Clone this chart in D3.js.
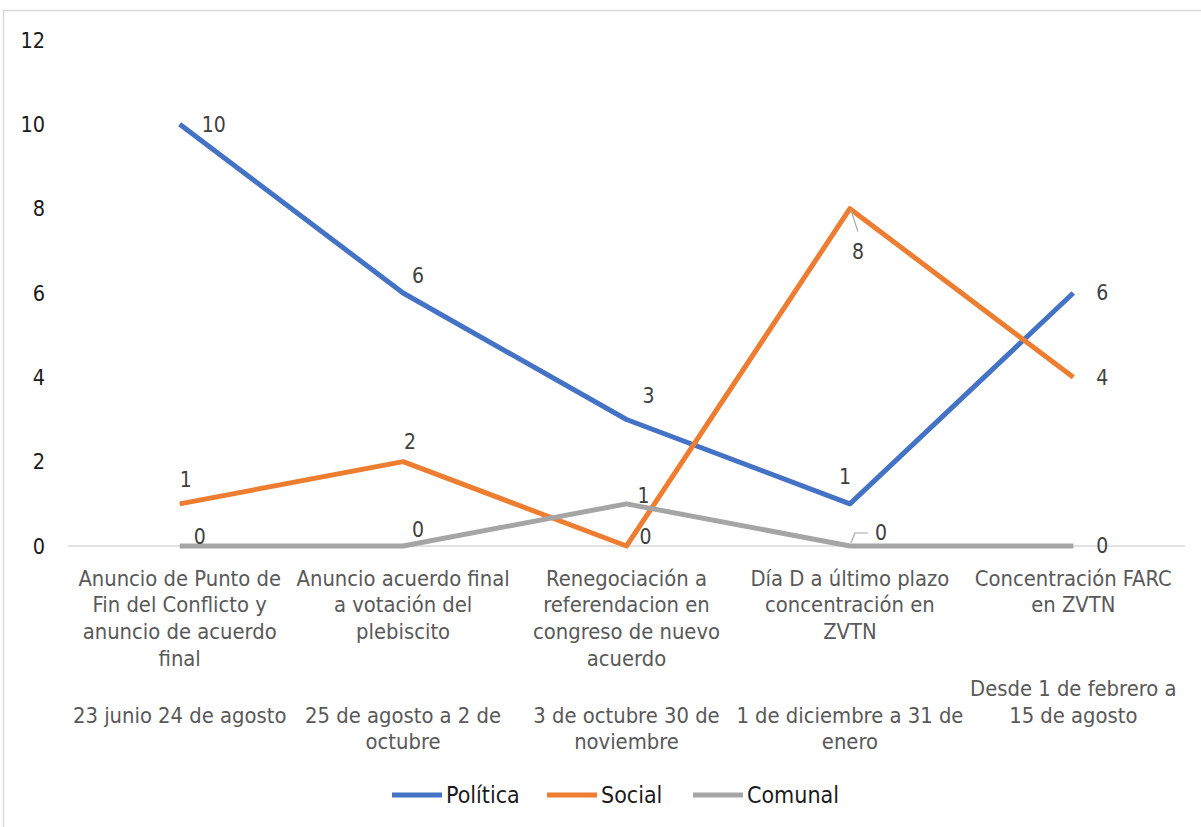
<!DOCTYPE html>
<html>
<head>
<meta charset="utf-8">
<script src="https://cdn.jsdelivr.net/npm/d3@7"></script>
<style>
  html, body { margin: 0; padding: 0; background: #fff; }
  svg { display: block; }
  text { font-family: "DejaVu Sans Condensed", "DejaVu Sans", sans-serif; }
</style>
</head>
<body>
<script>
// ---- data ----
const categories = [
  "Anuncio de Punto de Fin del Conflicto y anuncio de acuerdo final",
  "Anuncio acuerdo final a votación del plebiscito",
  "Renegociación a referendacion en congreso de nuevo acuerdo",
  "Día D a último plazo concentración en ZVTN",
  "Concentración FARC en ZVTN"
];
const categoryLines = [
  ["Anuncio de Punto de", "Fin del Conflicto y", "anuncio de acuerdo", "final"],
  ["Anuncio acuerdo final", "a votación del", "plebiscito"],
  ["Renegociación a", "referendacion en", "congreso de nuevo", "acuerdo"],
  ["Día D a último plazo", "concentración en", "ZVTN"],
  ["Concentración FARC", "en ZVTN"]
];
const periodLines = [
  ["23 junio 24 de agosto"],
  ["25 de agosto a 2 de", "octubre"],
  ["3 de octubre 30 de", "noviembre"],
  ["1 de diciembre a 31 de", "enero"],
  ["Desde 1 de febrero a", "15 de agosto"]
];
const seriesNames = ["Política", "Social", "Comunal"];
const politica = [10, 6, 3, 1, 6];
const social = [1, 2, 0, 8, 4];
const comunal = [0, 0, 1, 0, 0];
const yTicks = [0, 2, 4, 6, 8, 10, 12];

// ---- layout / style ----
const W = 1201, H = 827;
const colors = ["#4472C4", "#ED7D31", "#A5A5A5"];
const periodStartRow = [1, 1, 1, 1, 0];
// label offsets (dx, dy) relative to point, per series
const labelOffsets = [
  [[34, 0], [15, -17], [22, -24], [-5, -27], [29, 0]],
  [[6, -24], [7, -20], [19, -9], [8, 43], [29, 0]],
  [[20, -9], [15, -16], [17, -8], [31, -13], [29, 0]]
];

const svg = d3.select("body").append("svg").attr("width", W).attr("height", H);

// chart frame
svg.append("rect").attr("x", 3.5).attr("y", 10.5).attr("width", 1205).attr("height", 830)
  .attr("fill", "#fff").attr("stroke", "#d9d9d9").attr("stroke-width", 1.5);

const x = d3.scalePoint().domain(categories).range([68, 1185]).padding(0.5);
const y = d3.scaleLinear().domain([0, 12]).range([546, 40]);

// y tick labels
svg.append("g").selectAll("text").data(yTicks).join("text")
  .attr("x", 45).attr("y", d => y(d)).attr("dy", "0.35em")
  .attr("text-anchor", "end").attr("font-size", 21.5).attr("fill", "#1a1a1a")
  .text(d => d);

// baseline
svg.append("line").attr("x1", 68).attr("x2", 1185).attr("y1", y(0)).attr("y2", y(0))
  .attr("stroke", "#d9d9d9").attr("stroke-width", 1.5);

// category labels
const catG = svg.append("g").attr("font-size", 21.8).attr("fill", "#595959").attr("text-anchor", "middle");
categories.forEach((c, i) => {
  const cx = x(c);
  categoryLines[i].forEach((ln, j) => {
    catG.append("text").attr("x", cx).attr("y", 578 + j * 26.7).attr("dy", "0.35em").text(ln);
  });
  periodLines[i].forEach((ln, j) => {
    catG.append("text").attr("x", cx).attr("y", 688 + (periodStartRow[i] + j) * 26.9).attr("dy", "0.35em").text(ln);
  });
});

// lines
const allSeries = [politica, social, comunal];
const line = d3.line().x((d, i) => x(categories[i])).y(d => y(d));
allSeries.forEach((s, k) => {
  svg.append("path").datum(s).attr("d", line).attr("fill", "none")
    .attr("stroke", colors[k]).attr("stroke-width", 5).attr("stroke-linejoin", "round");
});

// leader lines
const leaders = svg.append("g").attr("stroke", "#a6a6a6").attr("stroke-width", 1.2).attr("fill", "none");
leaders.append("path").attr("d", `M${x(categories[3]) + 1},${y(social[3]) + 1} L${x(categories[3]) + 8},${y(social[3]) + 23}`);
leaders.append("path").attr("d", `M${x(categories[3]) + 1},${y(comunal[3]) - 3} L${x(categories[3]) + 5},${y(comunal[3]) - 13} L${x(categories[3]) + 18},${y(comunal[3]) - 13}`);

// data labels
const lblG = svg.append("g").attr("font-size", 21).attr("fill", "#404040").attr("text-anchor", "middle");
allSeries.forEach((s, k) => {
  s.forEach((v, i) => {
    lblG.append("text")
      .attr("x", x(categories[i]) + labelOffsets[k][i][0])
      .attr("y", y(v) + labelOffsets[k][i][1])
      .attr("dy", "0.35em").text(v);
  });
});

// legend
const legendX = [392, 547, 693];
const lg = svg.append("g");
seriesNames.forEach((n, k) => {
  lg.append("line").attr("x1", legendX[k]).attr("x2", legendX[k] + 50).attr("y1", 795).attr("y2", 795)
    .attr("stroke", colors[k]).attr("stroke-width", 5);
  lg.append("text").attr("x", legendX[k] + 54).attr("y", 795).attr("dy", "0.35em")
    .attr("font-size", 23).attr("fill", "#1a1a1a").text(n);
});
</script>
</body>
</html>
